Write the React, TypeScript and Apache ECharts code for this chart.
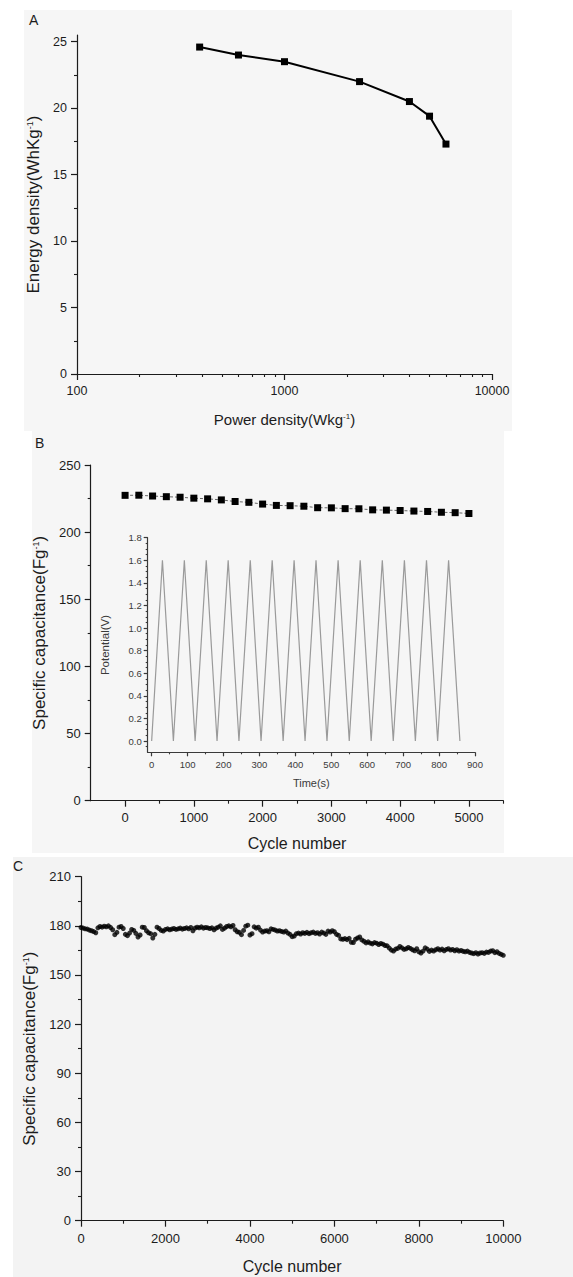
import React, { useEffect, useRef } from "react";
import * as echarts from "echarts";

const FONT = "'Liberation Sans', Arial, Helvetica, sans-serif";
const INK = "#1c1c1c";

// ---------- Panel A ----------
const powerDensity = [390, 600, 1000, 2300, 4000, 5000, 6000];
const energyDensity = [24.6, 24.0, 23.5, 22.0, 20.5, 19.4, 17.3];
const aXMajor = [100, 1000, 10000];
const aXMinor = [200, 300, 400, 500, 600, 700, 800, 900, 2000, 3000, 4000, 5000, 6000, 7000, 8000, 9000];
const aYMajor = [0, 5, 10, 15, 20, 25];
const aYMinor = [2.5, 7.5, 12.5, 17.5, 22.5];

// ---------- Panel B ----------
const cycleB = [0, 200, 400, 600, 800, 1000, 1200, 1400, 1600, 1800, 2000, 2200, 2400, 2600, 2800, 3000, 3200, 3400, 3600, 3800, 4000, 4200, 4400, 4600, 4800, 5000];
const capB = [227.4, 227.5, 226.9, 226.4, 226.0, 225.3, 224.8, 224.0, 222.8, 222.2, 220.9, 219.9, 219.7, 219.3, 218.2, 218.1, 217.5, 217.4, 216.6, 216.4, 216.1, 215.7, 215.4, 214.8, 214.5, 213.9];
const bXMajor = [0, 1000, 2000, 3000, 4000, 5000];
const bXMinor = [500, 1500, 2500, 3500, 4500, 5500];
const bYMajor = [0, 50, 100, 150, 200, 250];
const bYMinor = [25, 75, 125, 175, 225];

// ---------- Inset (GCD curves) ----------
const gcdTime = [0, 30, 60.5, 91, 121, 152, 182, 213, 243, 274.5, 304.5, 335.5, 366, 396.5, 427, 457.5, 488, 519, 550, 580.5, 611, 642, 672.5, 703.5, 734, 765, 796, 826.5, 858];
const gcdPotential = [0, 1.6, 0, 1.6, 0, 1.6, 0, 1.6, 0, 1.6, 0, 1.6, 0, 1.6, 0, 1.6, 0, 1.6, 0, 1.6, 0, 1.6, 0, 1.6, 0, 1.6, 0, 1.6, 0];
const inXMajor = [0, 100, 200, 300, 400, 500, 600, 700, 800, 900];
const inXMinor = [50, 150, 250, 350, 450, 550, 650, 750, 850];
const inYMajor = [0, 0.2, 0.4, 0.6, 0.8, 1.0, 1.2, 1.4, 1.6, 1.8];
const inYMinor = [-0.05, 0.05, 0.1, 0.15, 0.25, 0.3, 0.35, 0.45, 0.5, 0.55, 0.65, 0.7, 0.75, 0.85, 0.9, 0.95, 1.05, 1.1, 1.15, 1.25, 1.3, 1.35, 1.45, 1.5, 1.55, 1.65, 1.7, 1.75];

// ---------- Panel C ----------
const cycleC = [
  0, 50, 100, 150, 200, 250, 300, 350, 400, 450, 500, 550, 600, 650, 700, 750, 800, 850, 900, 950,
  1000, 1050, 1100, 1150, 1200, 1250, 1300, 1350, 1400, 1450, 1500, 1550, 1600, 1650, 1700, 1750, 1800, 1850, 1900, 1950,
  2000, 2050, 2100, 2150, 2200, 2250, 2300, 2350, 2400, 2450, 2500, 2550, 2600, 2650, 2700, 2750, 2800, 2850, 2900, 2950,
  3000, 3050, 3100, 3150, 3200, 3250, 3300, 3350, 3400, 3450, 3500, 3550, 3600, 3650, 3700, 3750, 3800, 3850, 3900, 3950,
  4000, 4050, 4100, 4150, 4200, 4250, 4300, 4350, 4400, 4450, 4500, 4550, 4600, 4650, 4700, 4750, 4800, 4850, 4900, 4950,
  5000, 5050, 5100, 5150, 5200, 5250, 5300, 5350, 5400, 5450, 5500, 5550, 5600, 5650, 5700, 5750, 5800, 5850, 5900, 5950,
  6000, 6050, 6100, 6150, 6200, 6250, 6300, 6350, 6400, 6450, 6500, 6550, 6600, 6650, 6700, 6750, 6800, 6850, 6900, 6950,
  7000, 7050, 7100, 7150, 7200, 7250, 7300, 7350, 7400, 7450, 7500, 7550, 7600, 7650, 7700, 7750, 7800, 7850, 7900, 7950,
  8000, 8050, 8100, 8150, 8200, 8250, 8300, 8350, 8400, 8450, 8500, 8550, 8600, 8650, 8700, 8750, 8800, 8850, 8900, 8950,
  9000, 9050, 9100, 9150, 9200, 9250, 9300, 9350, 9400, 9450, 9500, 9550, 9600, 9650, 9700, 9750, 9800, 9850, 9900, 9950,
  10000,
];
const capC = [
  179.0, 178.6, 178.2, 178.0, 177.4, 177.0, 176.5, 175.8, 178.8, 179.6, 179.2, 179.8, 179.4, 180.0, 179.0, 177.6, 174.6, 176.0, 179.2, 179.6,
  178.4, 174.8, 174.0, 175.6, 177.8, 177.2, 175.4, 173.2, 174.4, 179.2, 179.0, 177.0, 175.8, 175.2, 172.6, 174.8, 179.2, 178.4, 177.2, 176.8,
  177.8, 178.2, 177.6, 178.0, 178.4, 177.8, 178.2, 178.6, 178.0, 178.4, 178.8, 178.2, 179.0, 177.0, 178.6, 179.2, 178.8, 179.4, 178.6, 179.0,
  178.8, 178.4, 178.8, 177.6, 178.6, 179.2, 180.0, 177.8, 178.6, 179.6, 180.0, 179.4, 180.2, 177.6, 176.4, 176.0, 174.6, 177.2, 179.8, 180.4,
  174.4, 175.2, 179.4, 178.6, 179.2, 177.4, 176.2, 176.8, 177.0, 176.4, 178.2, 177.8, 177.4, 176.8, 177.0, 176.6, 176.2, 176.8, 175.6, 174.8,
  173.4, 173.8, 175.2, 175.6, 175.0, 175.8, 175.4, 176.0, 175.2, 175.8, 176.2, 175.4, 175.8, 175.0, 176.2, 175.6, 174.8, 176.8, 176.2, 177.0,
  176.4, 174.8, 174.2, 172.0, 171.8, 172.2, 171.6, 172.4, 170.0, 169.8, 171.8, 172.6, 173.2, 171.4, 170.6, 169.6, 170.2, 169.4, 169.0, 169.8,
  169.4, 168.6, 169.2, 168.8, 168.0, 167.8, 166.4, 165.2, 164.6, 165.8, 166.2, 167.4, 166.6, 165.6, 166.0, 166.8, 166.2, 165.4, 164.8, 166.0,
  164.2, 163.4, 164.6, 166.6, 165.8, 164.4, 165.2, 164.6, 165.4, 166.0, 165.2, 165.8, 164.8, 165.6, 166.0, 165.2, 165.6, 164.8, 165.4, 164.6,
  165.0, 164.4, 164.2, 164.6, 163.8, 163.4, 163.0, 163.6, 162.8, 163.4, 163.6, 163.2, 164.0, 163.8, 164.6, 164.8, 163.6, 164.2, 163.2, 162.6,
  162.0,
];
const cXMajor = [0, 2000, 4000, 6000, 8000, 10000];
const cXMinor = [1000, 3000, 5000, 7000, 9000];
const cYMajor = [0, 30, 60, 90, 120, 150, 180, 210];
const cYMinor = [15, 45, 75, 105, 135, 165, 195];

const zip = (xs: number[], ys: number[]) => xs.map((x, i) => [x, ys[i]]);

type AxisOpts = {
  gridIndex: number;
  position: "bottom" | "left";
  type: "value" | "log";
  min: number;
  max: number;
  major: number[];
  fontSize: number;
  margin: number;
  color: string;
  fmt?: (v: number) => string;
  name?: string;
  nameGap?: number;
  nameSize?: number;
  tickLen?: number;
};

function mainAxis(o: AxisOpts) {
  const a: any = {
    type: o.type,
    gridIndex: o.gridIndex,
    position: o.position,
    min: o.min,
    max: o.max,
    axisLine: { show: true, onZero: false, lineStyle: { color: o.color, width: 1.2 } },
    axisTick: { show: true, customValues: o.major, length: o.tickLen ?? 6, lineStyle: { color: o.color, width: 1.2 } },
    axisLabel: {
      show: true,
      customValues: o.major,
      fontSize: o.fontSize,
      fontFamily: FONT,
      color: o.color,
      margin: o.margin,
      formatter: o.fmt ?? ((v: number) => String(v)),
    },
    splitLine: { show: false },
    minorTick: { show: false },
  };
  if (o.type === "log") a.logBase = 10;
  if (o.name) {
    const size = o.nameSize ?? 16;
    a.name = o.name;
    a.nameLocation = "middle";
    a.nameGap = o.nameGap;
    a.nameTextStyle = {
      fontSize: size,
      fontFamily: FONT,
      color: o.color,
      rich: {
        sup: { fontSize: Math.round(size * 0.55), fontFamily: FONT, color: o.color, verticalAlign: "top" },
      },
    };
  }
  return a;
}

function minorAxis(gridIndex: number, position: "bottom" | "left", type: "value" | "log", min: number, max: number, minor: number[], color: string, len = 3) {
  const a: any = {
    type,
    gridIndex,
    position,
    min,
    max,
    axisLine: { show: false, onZero: false },
    axisTick: { show: true, customValues: minor, length: len, lineStyle: { color, width: 1.1 } },
    axisLabel: { show: false },
    splitLine: { show: false },
    minorTick: { show: false },
  };
  if (type === "log") a.logBase = 10;
  return a;
}

export default function App() {
  const ref = useRef<HTMLDivElement>(null);

  useEffect(() => {
    if (!ref.current) return;
    const chart = echarts.init(ref.current, undefined, { renderer: "svg" });
    const inset = "#3a3a3a";

    const option: any = {
      animation: false,
      backgroundColor: "#ffffff",
      graphic: [
        { type: "rect", z: -10, silent: true, shape: { x: 24, y: 10, width: 488, height: 421 }, style: { fill: "#f6f6f6" } },
        { type: "rect", z: -10, silent: true, shape: { x: 32, y: 431, width: 472, height: 422 }, style: { fill: "#f6f6f6" } },
        { type: "rect", z: -10, silent: true, shape: { x: 13, y: 857, width: 560, height: 420 }, style: { fill: "#f3f3f3" } },
        { type: "text", left: 29, top: 13, style: { text: "A", fontSize: 14, fontFamily: FONT, fill: INK } },
        { type: "text", left: 35, top: 436, style: { text: "B", fontSize: 14, fontFamily: FONT, fill: INK } },
        { type: "text", left: 13, top: 859, style: { text: "C", fontSize: 14, fontFamily: FONT, fill: INK } },
      ],
      grid: [
        { left: 77, top: 35.1, width: 415, height: 338.9, outerBoundsMode: "none" },
        { left: 90.7, top: 465, width: 412.6, height: 335.7, outerBoundsMode: "none" },
        { left: 147.7, top: 537.7, width: 327.3, height: 214.6, outerBoundsMode: "none" },
        { left: 81, top: 876.7, width: 422.3, height: 344, outerBoundsMode: "none" },
      ],
      xAxis: [
        mainAxis({ gridIndex: 0, position: "bottom", type: "log", min: 100, max: 10000, major: aXMajor, fontSize: 12.5, margin: 10, color: INK, name: "Power density(Wkg{sup|-1})", nameGap: 38, nameSize: 15 }),
        minorAxis(0, "bottom", "log", 100, 10000, aXMinor, INK),
        mainAxis({ gridIndex: 1, position: "bottom", type: "value", min: -500, max: 5500, major: bXMajor, fontSize: 13, margin: 10, color: INK, name: "Cycle number", nameGap: 35, nameSize: 16 }),
        minorAxis(1, "bottom", "value", -500, 5500, bXMinor, INK),
        mainAxis({ gridIndex: 2, position: "bottom", type: "value", min: -11, max: 900, major: inXMajor, fontSize: 9.5, margin: 7, color: inset, name: "Time(s)", nameGap: 25, nameSize: 11, tickLen: 4 }),
        minorAxis(2, "bottom", "value", -11, 900, inXMinor, inset, 2),
        mainAxis({ gridIndex: 3, position: "bottom", type: "value", min: 0, max: 10000, major: cXMajor, fontSize: 13, margin: 11, color: INK, name: "Cycle number", nameGap: 38, nameSize: 16 }),
        minorAxis(3, "bottom", "value", 0, 10000, cXMinor, INK),
      ],
      yAxis: [
        mainAxis({ gridIndex: 0, position: "left", type: "value", min: 0, max: 25.5, major: aYMajor, fontSize: 12.5, margin: 10, color: INK, name: "Energy density(WhKg{sup|-1})", nameGap: 34, nameSize: 17 }),
        minorAxis(0, "left", "value", 0, 25.5, aYMinor, INK),
        mainAxis({ gridIndex: 1, position: "left", type: "value", min: 0, max: 250, major: bYMajor, fontSize: 13, margin: 10, color: INK, name: "Specific capacitance(Fg{sup|-1})", nameGap: 39, nameSize: 17 }),
        minorAxis(1, "left", "value", 0, 250, bYMinor, INK),
        mainAxis({ gridIndex: 2, position: "left", type: "value", min: -0.1, max: 1.8, major: inYMajor, fontSize: 9.5, margin: 6, color: inset, fmt: (v: number) => v.toFixed(1), name: "Potential(V)", nameGap: 37, nameSize: 11.5, tickLen: 4 }),
        minorAxis(2, "left", "value", -0.1, 1.8, inYMinor, inset, 2),
        mainAxis({ gridIndex: 3, position: "left", type: "value", min: 0, max: 210, major: cYMajor, fontSize: 13, margin: 10, color: INK, name: "Specific capacitance(Fg{sup|-1})", nameGap: 40, nameSize: 17 }),
        minorAxis(3, "left", "value", 0, 210, cYMinor, INK),
      ],
      series: [
        {
          type: "line",
          xAxisIndex: 0,
          yAxisIndex: 0,
          data: zip(powerDensity, energyDensity),
          symbol: "rect",
          symbolSize: 7,
          itemStyle: { color: "#000" },
          lineStyle: { color: "#000", width: 2 },
          z: 5,
        },
        {
          type: "line",
          xAxisIndex: 2,
          yAxisIndex: 2,
          data: zip(cycleB, capB),
          symbol: "rect",
          symbolSize: 7,
          itemStyle: { color: "#000" },
          lineStyle: { color: "#666", width: 1, type: [3, 2] },
          z: 5,
        },
        {
          type: "line",
          xAxisIndex: 4,
          yAxisIndex: 4,
          data: zip(gcdTime, gcdPotential),
          symbol: "none",
          lineStyle: { color: "#9a9a9a", width: 1.2 },
          z: 4,
        },
        {
          type: "scatter",
          xAxisIndex: 6,
          yAxisIndex: 6,
          data: zip(cycleC, capC),
          symbol: "circle",
          symbolSize: 5,
          itemStyle: { color: "#000" },
          z: 5,
        },
      ],
    };

    chart.setOption(option);
    return () => chart.dispose();
  }, []);

  return (
    <div
      ref={ref}
      style={{ position: "absolute", left: 0, top: 0, width: 573, height: 1277 }}
    />
  );
}
